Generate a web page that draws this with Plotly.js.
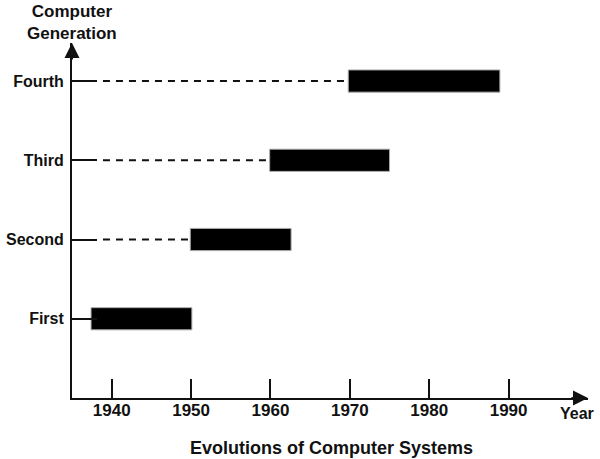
<!DOCTYPE html>
<html><head><meta charset="utf-8">
<script src="https://cdn.plot.ly/plotly-3.0.1.min.js"></script>
<style>html,body{margin:0;padding:0;background:#fff}#c{width:600px;height:459px}</style>
</head><body><div id="c"></div>
<script>
const generations = ['First', 'Second', 'Third', 'Fourth'];
const levels = [1, 2, 3, 4];
const startYear = [1937.4, 1949.9, 1959.9, 1969.8];
const endYear = [1950.1, 1962.6, 1975.0, 1988.9];
const xTicks = [1940, 1950, 1960, 1970, 1980, 1990];
const axisStart = 1935;
const dashStart = 1938.9;

const F = 'Liberation Sans, Arial, sans-serif';
const traces = [];
levels.forEach((lv, i) => {
  if (startYear[i] > dashStart) {
    traces.push({type: 'scatter', mode: 'lines', x: [dashStart, startYear[i]], y: [lv, lv],
      line: {color: '#111', width: 2, dash: '7px,6px'}, hoverinfo: 'skip', showlegend: false});
  }
});
traces.push({type: 'bar', orientation: 'h', y: levels,
  x: endYear.map((e, i) => e - startYear[i]), base: startYear, width: 0.28,
  marker: {color: '#000', line: {color: '#aaa', width: 1}}, showlegend: false});

const layout = {
  width: 600, height: 459, margin: {l: 72, r: 12, t: 43, b: 61},
  paper_bgcolor: '#fff', plot_bgcolor: '#fff', bargap: 0,
  font: {family: F, color: '#111'},
  xaxis: {range: [axisStart, 2000], showgrid: false, zeroline: false, showline: true,
    linecolor: '#111', linewidth: 2, ticks: 'inside', ticklen: 19, tickwidth: 2, tickcolor: '#111',
    tickvals: xTicks, ticktext: xTicks.map(String), ticklabelstandoff: -4,
    tickfont: {family: F, size: 17, color: '#111', weight: 'bold'}},
  yaxis: {range: [0, 4.48], showgrid: false, zeroline: false, showline: true,
    linecolor: '#111', linewidth: 2, ticks: 'inside', ticklen: 25, tickwidth: 2, tickcolor: '#111',
    tickvals: levels, ticktext: generations, ticklabelstandoff: 3,
    tickfont: {family: F, size: 16, color: '#111', weight: 'bold'}},
  annotations: [
    {xref: 'paper', yref: 'paper', x: 0, y: 1, ax: 0, ay: 18, showarrow: true, arrowhead: 2,
     arrowsize: 1.5, arrowwidth: 2, arrowcolor: '#111', text: ''},
    {xref: 'paper', yref: 'paper', x: 1, y: 0, ax: -18, ay: 0, showarrow: true, arrowhead: 2,
     arrowsize: 1.5, arrowwidth: 2, arrowcolor: '#111', text: ''},
    {xref: 'paper', yref: 'paper', x: 0, y: 1.059, xanchor: 'center', yanchor: 'middle',
     showarrow: false, text: 'Computer<br>Generation', align: 'center',
     font: {family: F, size: 17, color: '#111', weight: 'bold'}},
    {xref: 'paper', yref: 'paper', x: 1, xshift: 8, y: 0, yshift: -15, xanchor: 'right', yanchor: 'middle',
     showarrow: false, text: 'Year', font: {family: F, size: 16, color: '#111', weight: 'bold'}},
    {xref: 'paper', yref: 'paper', x: 0.5, xshift: 1, y: 0, yshift: -50, xanchor: 'center', yanchor: 'middle',
     showarrow: false, text: 'Evolutions of Computer Systems',
     font: {family: F, size: 18, color: '#111', weight: 'bold'}}
  ]
};
Plotly.newPlot('c', traces, layout, {staticPlot: true});
</script></body></html>
